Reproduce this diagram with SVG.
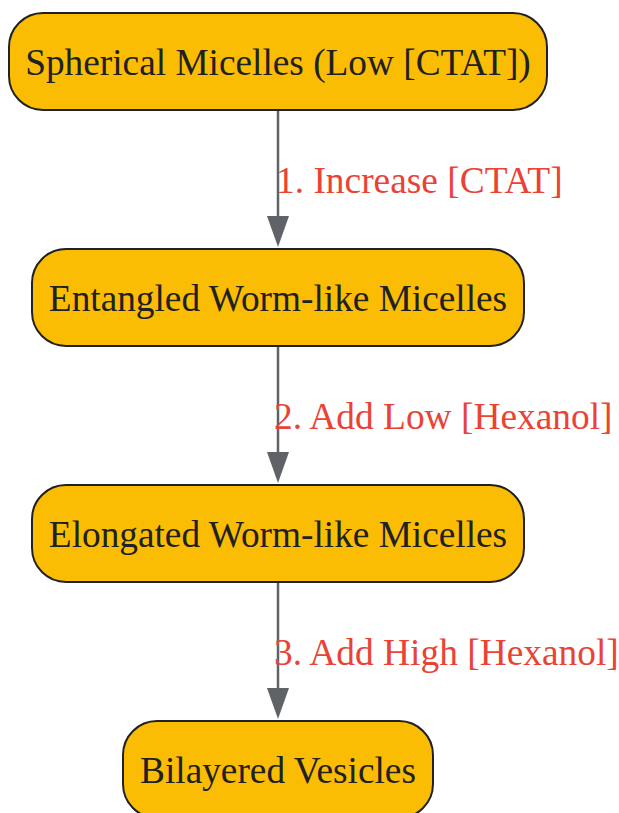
<svg xmlns="http://www.w3.org/2000/svg" width="619" height="813" viewBox="0 0 619 813">
<style>
.node rect{fill:#fbbc04;stroke:#202124;stroke-width:2}
.node text{font-family:"Liberation Serif",serif;font-size:37.3px;fill:#202124;text-anchor:middle}
.edge line{stroke:#5f6368;stroke-width:2.5}
.edge path{fill:#5f6368}
.lbl{font-family:"Liberation Serif",serif;font-size:37.4px;fill:#ea4335}
</style>
<g id="connectors" class="edge">
<line x1="278" y1="110" x2="278" y2="216"/>
<path d="M267,216 L289,216 L278,247 Z"/>
<line x1="278" y1="346" x2="278" y2="452"/>
<path d="M267,452 L289,452 L278,483 Z"/>
<line x1="278" y1="582" x2="278" y2="688"/>
<path d="M267,688 L289,688 L278,719 Z"/>
<text class="lbl" x="276" y="193">1. Increase [CTAT]</text>
<text class="lbl" x="274" y="429">2. Add Low [Hexanol]</text>
<text class="lbl" x="274" y="665">3. Add High [Hexanol]</text>
</g>
<g id="n1" class="node"><rect x="9" y="13" width="538" height="97" rx="34"/><text x="278" y="75">Spherical Micelles (Low [CTAT])</text></g>
<g id="n2" class="node"><rect x="32" y="249" width="492" height="97" rx="34"/><text x="278" y="311">Entangled Worm-like Micelles</text></g>
<g id="n3" class="node"><rect x="32" y="485" width="492" height="97" rx="34"/><text x="278" y="547">Elongated Worm-like Micelles</text></g>
<g id="n4" class="node"><rect x="123" y="721" width="310" height="97" rx="34"/><text x="278" y="783">Bilayered Vesicles</text></g>
</svg>
